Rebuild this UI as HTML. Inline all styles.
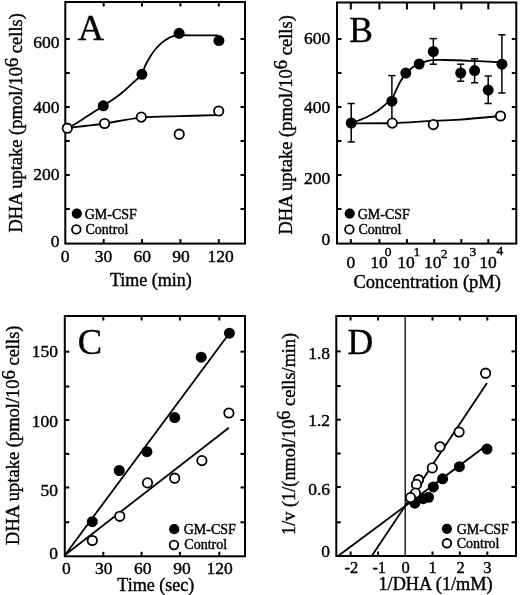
<!DOCTYPE html>
<html><head><meta charset="utf-8"><style>
html,body{margin:0;padding:0;background:#fff;}
svg{display:block;will-change:transform;filter:blur(0.3px);}
text{font-family:"Liberation Serif", serif;fill:#000;stroke:#000;stroke-width:0.4px;}
</style></head><body>
<svg width="520" height="595" viewBox="0 0 520 595">
<rect x="0" y="0" width="520" height="595" fill="#fff"/>
<rect x="65.30" y="2.00" width="179.70" height="241.60" fill="none" stroke="#000" stroke-width="2"/>
<line x1="103.67" y1="243.60" x2="103.67" y2="239.10" stroke="#000" stroke-width="2"/>
<line x1="103.67" y1="2.00" x2="103.67" y2="6.50" stroke="#000" stroke-width="2"/>
<line x1="142.04" y1="243.60" x2="142.04" y2="239.10" stroke="#000" stroke-width="2"/>
<line x1="142.04" y1="2.00" x2="142.04" y2="6.50" stroke="#000" stroke-width="2"/>
<line x1="180.41" y1="243.60" x2="180.41" y2="239.10" stroke="#000" stroke-width="2"/>
<line x1="180.41" y1="2.00" x2="180.41" y2="6.50" stroke="#000" stroke-width="2"/>
<line x1="218.78" y1="243.60" x2="218.78" y2="239.10" stroke="#000" stroke-width="2"/>
<line x1="218.78" y1="2.00" x2="218.78" y2="6.50" stroke="#000" stroke-width="2"/>
<line x1="65.30" y1="209.00" x2="69.80" y2="209.00" stroke="#000" stroke-width="2"/>
<line x1="245.00" y1="209.00" x2="240.50" y2="209.00" stroke="#000" stroke-width="2"/>
<line x1="65.30" y1="175.00" x2="69.80" y2="175.00" stroke="#000" stroke-width="2"/>
<line x1="245.00" y1="175.00" x2="240.50" y2="175.00" stroke="#000" stroke-width="2"/>
<line x1="65.30" y1="141.00" x2="69.80" y2="141.00" stroke="#000" stroke-width="2"/>
<line x1="245.00" y1="141.00" x2="240.50" y2="141.00" stroke="#000" stroke-width="2"/>
<line x1="65.30" y1="107.00" x2="69.80" y2="107.00" stroke="#000" stroke-width="2"/>
<line x1="245.00" y1="107.00" x2="240.50" y2="107.00" stroke="#000" stroke-width="2"/>
<line x1="65.30" y1="73.00" x2="69.80" y2="73.00" stroke="#000" stroke-width="2"/>
<line x1="245.00" y1="73.00" x2="240.50" y2="73.00" stroke="#000" stroke-width="2"/>
<line x1="65.30" y1="39.00" x2="69.80" y2="39.00" stroke="#000" stroke-width="2"/>
<line x1="245.00" y1="39.00" x2="240.50" y2="39.00" stroke="#000" stroke-width="2"/>
<text x="60.83" y="261.73" font-size="17.5" >0</text>
<text x="94.85" y="261.73" font-size="17.5" >30</text>
<text x="133.45" y="261.73" font-size="17.5" >60</text>
<text x="172.15" y="261.73" font-size="17.5" >90</text>
<text x="207.47" y="261.73" font-size="17.5" >120</text>
<text x="33.25" y="48.33" font-size="17.5" >600</text>
<text x="33.25" y="113.43" font-size="17.5" >400</text>
<text x="33.25" y="180.23" font-size="17.5" >200</text>
<text x="50.75" y="246.53" font-size="17.5" >0</text>
<text x="77.75" y="39.59" font-size="36.5" >A</text>
<path d="M72.00,126.00 C74.33,124.50 80.78,120.37 86.00,117.00 C91.22,113.63 97.55,109.63 103.30,105.80 C109.05,101.97 115.22,98.13 120.50,94.00 C125.78,89.87 131.43,84.28 135.00,81.00 C138.57,77.72 140.18,76.88 141.90,74.30 C143.62,71.72 143.85,68.55 145.30,65.50 C146.75,62.45 148.67,59.00 150.60,56.00 C152.53,53.00 154.43,50.15 156.90,47.50 C159.37,44.85 162.58,42.03 165.40,40.10 C168.22,38.17 171.37,36.70 173.80,35.90 C176.23,35.10 177.30,35.40 180.00,35.30 C182.70,35.20 183.67,35.28 190.00,35.30 C196.33,35.32 213.33,35.38 218.00,35.40" fill="none" stroke="#000" stroke-width="1.8" stroke-linejoin="round"/>
<path d="M67.30,128.20 C70.25,127.83 78.78,126.78 85.00,126.00 C91.22,125.22 95.22,124.90 104.60,123.50 C113.98,122.10 128.73,118.83 141.30,117.60 C153.87,116.37 167.55,116.50 180.00,116.10 C192.45,115.70 210.00,115.35 216.00,115.20" fill="none" stroke="#000" stroke-width="1.8" stroke-linejoin="round"/>
<circle cx="103.30" cy="105.80" r="5.5" fill="#000"/>
<circle cx="141.90" cy="74.30" r="5.5" fill="#000"/>
<circle cx="179.10" cy="33.30" r="5.5" fill="#000"/>
<circle cx="218.90" cy="40.60" r="5.5" fill="#000"/>
<circle cx="67.30" cy="128.20" r="4.7" fill="#fff" stroke="#000" stroke-width="1.8"/>
<circle cx="104.60" cy="123.50" r="4.7" fill="#fff" stroke="#000" stroke-width="1.8"/>
<circle cx="141.30" cy="117.10" r="4.7" fill="#fff" stroke="#000" stroke-width="1.8"/>
<circle cx="179.20" cy="134.20" r="4.7" fill="#fff" stroke="#000" stroke-width="1.8"/>
<circle cx="218.70" cy="111.00" r="4.7" fill="#fff" stroke="#000" stroke-width="1.8"/>
<circle cx="76.80" cy="213.60" r="5.1" fill="#000"/>
<text x="84.70" y="218.50" font-size="14" >GM-CSF</text>
<circle cx="76.30" cy="229.40" r="4.3" fill="#fff" stroke="#000" stroke-width="1.8"/>
<text x="85.50" y="233.50" font-size="14" >Control</text>
<text x="109.88" y="285.80" font-size="18" >Time (min)</text>
<text transform="translate(22.30,232.50) rotate(-90)" font-size="18.5">DHA uptake (pmol/10<tspan dy="-4.5">6</tspan><tspan dy="4.5"> cells)</tspan></text>
<rect x="337.00" y="2.50" width="179.30" height="241.10" fill="none" stroke="#000" stroke-width="2"/>
<line x1="350.80" y1="243.60" x2="350.80" y2="239.10" stroke="#000" stroke-width="2"/>
<line x1="350.80" y1="2.50" x2="350.80" y2="9.50" stroke="#000" stroke-width="2"/>
<line x1="379.40" y1="243.60" x2="379.40" y2="239.10" stroke="#000" stroke-width="2"/>
<line x1="379.40" y1="2.50" x2="379.40" y2="9.50" stroke="#000" stroke-width="2"/>
<line x1="406.90" y1="243.60" x2="406.90" y2="239.10" stroke="#000" stroke-width="2"/>
<line x1="406.90" y1="2.50" x2="406.90" y2="9.50" stroke="#000" stroke-width="2"/>
<line x1="434.20" y1="243.60" x2="434.20" y2="239.10" stroke="#000" stroke-width="2"/>
<line x1="434.20" y1="2.50" x2="434.20" y2="9.50" stroke="#000" stroke-width="2"/>
<line x1="461.30" y1="243.60" x2="461.30" y2="239.10" stroke="#000" stroke-width="2"/>
<line x1="461.30" y1="2.50" x2="461.30" y2="9.50" stroke="#000" stroke-width="2"/>
<line x1="488.30" y1="243.60" x2="488.30" y2="239.10" stroke="#000" stroke-width="2"/>
<line x1="488.30" y1="2.50" x2="488.30" y2="9.50" stroke="#000" stroke-width="2"/>
<line x1="337.00" y1="209.00" x2="341.50" y2="209.00" stroke="#000" stroke-width="2"/>
<line x1="516.30" y1="209.00" x2="511.80" y2="209.00" stroke="#000" stroke-width="2"/>
<line x1="337.00" y1="175.00" x2="341.50" y2="175.00" stroke="#000" stroke-width="2"/>
<line x1="516.30" y1="175.00" x2="511.80" y2="175.00" stroke="#000" stroke-width="2"/>
<line x1="337.00" y1="141.00" x2="341.50" y2="141.00" stroke="#000" stroke-width="2"/>
<line x1="516.30" y1="141.00" x2="511.80" y2="141.00" stroke="#000" stroke-width="2"/>
<line x1="337.00" y1="107.00" x2="341.50" y2="107.00" stroke="#000" stroke-width="2"/>
<line x1="516.30" y1="107.00" x2="511.80" y2="107.00" stroke="#000" stroke-width="2"/>
<line x1="337.00" y1="73.00" x2="341.50" y2="73.00" stroke="#000" stroke-width="2"/>
<line x1="516.30" y1="73.00" x2="511.80" y2="73.00" stroke="#000" stroke-width="2"/>
<line x1="337.00" y1="39.00" x2="341.50" y2="39.00" stroke="#000" stroke-width="2"/>
<line x1="516.30" y1="39.00" x2="511.80" y2="39.00" stroke="#000" stroke-width="2"/>
<text x="346.52" y="268.13" font-size="17.5" >0</text>
<text x="370.30" y="268.13" font-size="17.5" >10</text>
<text x="384.70" y="255.92" font-size="13.5" >0</text>
<text x="397.20" y="268.13" font-size="17.5" >10</text>
<text x="413.50" y="255.76" font-size="13.5" >1</text>
<text x="424.00" y="268.13" font-size="17.5" >10</text>
<text x="440.70" y="257.67" font-size="13.5" >2</text>
<text x="452.20" y="268.13" font-size="17.5" >10</text>
<text x="469.50" y="255.90" font-size="13.5" >3</text>
<text x="479.20" y="268.13" font-size="17.5" >10</text>
<text x="496.50" y="255.44" font-size="13.5" >4</text>
<text x="304.05" y="44.43" font-size="17.5" >600</text>
<text x="304.05" y="113.43" font-size="17.5" >400</text>
<text x="304.05" y="184.03" font-size="17.5" >200</text>
<text x="321.55" y="244.63" font-size="17.5" >0</text>
<text x="349.25" y="41.75" font-size="35.5" >B</text>
<line x1="351.20" y1="103.50" x2="351.20" y2="141.90" stroke="#000" stroke-width="1.5"/>
<line x1="347.60" y1="103.50" x2="354.80" y2="103.50" stroke="#000" stroke-width="1.5"/>
<line x1="347.60" y1="141.90" x2="354.80" y2="141.90" stroke="#000" stroke-width="1.5"/>
<line x1="391.90" y1="75.60" x2="391.90" y2="122.80" stroke="#000" stroke-width="1.5"/>
<line x1="388.30" y1="75.60" x2="395.50" y2="75.60" stroke="#000" stroke-width="1.5"/>
<line x1="388.30" y1="122.80" x2="395.50" y2="122.80" stroke="#000" stroke-width="1.5"/>
<line x1="433.30" y1="38.60" x2="433.30" y2="64.20" stroke="#000" stroke-width="1.5"/>
<line x1="429.70" y1="38.60" x2="436.90" y2="38.60" stroke="#000" stroke-width="1.5"/>
<line x1="429.70" y1="64.20" x2="436.90" y2="64.20" stroke="#000" stroke-width="1.5"/>
<line x1="460.70" y1="64.20" x2="460.70" y2="81.20" stroke="#000" stroke-width="1.5"/>
<line x1="457.10" y1="64.20" x2="464.30" y2="64.20" stroke="#000" stroke-width="1.5"/>
<line x1="457.10" y1="81.20" x2="464.30" y2="81.20" stroke="#000" stroke-width="1.5"/>
<line x1="474.60" y1="58.80" x2="474.60" y2="82.80" stroke="#000" stroke-width="1.5"/>
<line x1="471.00" y1="58.80" x2="478.20" y2="58.80" stroke="#000" stroke-width="1.5"/>
<line x1="471.00" y1="82.80" x2="478.20" y2="82.80" stroke="#000" stroke-width="1.5"/>
<line x1="488.20" y1="76.00" x2="488.20" y2="103.50" stroke="#000" stroke-width="1.5"/>
<line x1="484.60" y1="76.00" x2="491.80" y2="76.00" stroke="#000" stroke-width="1.5"/>
<line x1="484.60" y1="103.50" x2="491.80" y2="103.50" stroke="#000" stroke-width="1.5"/>
<line x1="501.90" y1="34.80" x2="501.90" y2="93.00" stroke="#000" stroke-width="1.5"/>
<line x1="498.30" y1="34.80" x2="505.50" y2="34.80" stroke="#000" stroke-width="1.5"/>
<line x1="498.30" y1="93.00" x2="505.50" y2="93.00" stroke="#000" stroke-width="1.5"/>
<path d="M351.20,123.10 C353.57,122.20 360.98,119.75 365.40,117.70 C369.82,115.65 374.12,113.23 377.70,110.80 C381.28,108.37 384.55,105.03 386.90,103.10 C389.25,101.17 390.25,101.38 391.80,99.20 C393.35,97.02 394.70,93.07 396.20,90.00 C397.70,86.93 399.13,83.62 400.80,80.80 C402.47,77.98 404.15,75.42 406.20,73.10 C408.25,70.78 410.93,68.45 413.10,66.90 C415.27,65.35 416.38,64.90 419.20,63.80 C422.02,62.70 425.70,60.93 430.00,60.30 C434.30,59.67 438.33,59.92 445.00,60.00 C451.67,60.08 460.52,60.40 470.00,60.80 C479.48,61.20 496.58,62.13 501.90,62.40" fill="none" stroke="#000" stroke-width="1.8" stroke-linejoin="round"/>
<path d="M351.20,123.50 C358.10,123.42 379.85,123.38 392.60,123.00 C405.35,122.62 416.47,121.77 427.70,121.20 C438.93,120.63 447.87,120.47 460.00,119.60 C472.13,118.73 493.75,116.60 500.50,116.00" fill="none" stroke="#000" stroke-width="1.8" stroke-linejoin="round"/>
<circle cx="351.20" cy="123.10" r="5.5" fill="#000"/>
<circle cx="391.90" cy="101.20" r="5.5" fill="#000"/>
<circle cx="405.80" cy="73.10" r="5.5" fill="#000"/>
<circle cx="419.20" cy="64.00" r="5.5" fill="#000"/>
<circle cx="433.30" cy="51.50" r="5.5" fill="#000"/>
<circle cx="460.70" cy="73.00" r="5.5" fill="#000"/>
<circle cx="474.60" cy="70.60" r="5.5" fill="#000"/>
<circle cx="488.20" cy="90.10" r="5.5" fill="#000"/>
<circle cx="501.90" cy="64.20" r="5.5" fill="#000"/>
<circle cx="392.30" cy="123.10" r="4.7" fill="#fff" stroke="#000" stroke-width="1.8"/>
<circle cx="433.30" cy="124.60" r="4.7" fill="#fff" stroke="#000" stroke-width="1.8"/>
<circle cx="500.50" cy="116.00" r="4.7" fill="#fff" stroke="#000" stroke-width="1.8"/>
<circle cx="349.70" cy="213.60" r="5.1" fill="#000"/>
<text x="357.70" y="218.50" font-size="14" >GM-CSF</text>
<circle cx="349.40" cy="229.40" r="4.3" fill="#fff" stroke="#000" stroke-width="1.8"/>
<text x="358.50" y="233.50" font-size="14" >Control</text>
<text x="353.53" y="287.90" font-size="18.5" >Concentration (pM)</text>
<text transform="translate(291.50,234.60) rotate(-90)" font-size="18.5">DHA uptake (pmol/10<tspan dy="-4.5">6</tspan><tspan dy="4.5"> cells)</tspan></text>
<rect x="64.80" y="316.00" width="180.20" height="240.30" fill="none" stroke="#000" stroke-width="2"/>
<line x1="103.30" y1="556.30" x2="103.30" y2="551.80" stroke="#000" stroke-width="2"/>
<line x1="103.30" y1="316.00" x2="103.30" y2="320.50" stroke="#000" stroke-width="2"/>
<line x1="141.60" y1="556.30" x2="141.60" y2="551.80" stroke="#000" stroke-width="2"/>
<line x1="141.60" y1="316.00" x2="141.60" y2="320.50" stroke="#000" stroke-width="2"/>
<line x1="179.90" y1="556.30" x2="179.90" y2="551.80" stroke="#000" stroke-width="2"/>
<line x1="179.90" y1="316.00" x2="179.90" y2="320.50" stroke="#000" stroke-width="2"/>
<line x1="219.30" y1="556.30" x2="219.30" y2="551.80" stroke="#000" stroke-width="2"/>
<line x1="219.30" y1="316.00" x2="219.30" y2="320.50" stroke="#000" stroke-width="2"/>
<line x1="64.80" y1="522.30" x2="69.30" y2="522.30" stroke="#000" stroke-width="2"/>
<line x1="245.00" y1="522.30" x2="240.50" y2="522.30" stroke="#000" stroke-width="2"/>
<line x1="64.80" y1="487.50" x2="69.30" y2="487.50" stroke="#000" stroke-width="2"/>
<line x1="245.00" y1="487.50" x2="240.50" y2="487.50" stroke="#000" stroke-width="2"/>
<line x1="64.80" y1="453.90" x2="69.30" y2="453.90" stroke="#000" stroke-width="2"/>
<line x1="245.00" y1="453.90" x2="240.50" y2="453.90" stroke="#000" stroke-width="2"/>
<line x1="64.80" y1="420.00" x2="69.30" y2="420.00" stroke="#000" stroke-width="2"/>
<line x1="245.00" y1="420.00" x2="240.50" y2="420.00" stroke="#000" stroke-width="2"/>
<line x1="64.80" y1="386.50" x2="69.30" y2="386.50" stroke="#000" stroke-width="2"/>
<line x1="245.00" y1="386.50" x2="240.50" y2="386.50" stroke="#000" stroke-width="2"/>
<line x1="64.80" y1="351.70" x2="69.30" y2="351.70" stroke="#000" stroke-width="2"/>
<line x1="245.00" y1="351.70" x2="240.50" y2="351.70" stroke="#000" stroke-width="2"/>
<text x="61.88" y="573.93" font-size="17.5" >0</text>
<text x="95.00" y="573.93" font-size="17.5" >30</text>
<text x="133.95" y="573.93" font-size="17.5" >60</text>
<text x="173.25" y="573.93" font-size="17.5" >90</text>
<text x="206.57" y="573.93" font-size="17.5" >120</text>
<text x="31.75" y="357.13" font-size="17.5" >150</text>
<text x="31.75" y="426.53" font-size="17.5" >100</text>
<text x="40.50" y="495.73" font-size="17.5" >50</text>
<text x="49.25" y="559.13" font-size="17.5" >0</text>
<text x="77.75" y="354.06" font-size="36.5" >C</text>
<path d="M65,555 L229.4,333.2" fill="none" stroke="#000" stroke-width="1.8" stroke-linejoin="round"/>
<path d="M65,555 L228.9,427.7" fill="none" stroke="#000" stroke-width="1.8" stroke-linejoin="round"/>
<circle cx="92.30" cy="521.70" r="5.5" fill="#000"/>
<circle cx="119.20" cy="470.50" r="5.5" fill="#000"/>
<circle cx="146.90" cy="451.70" r="5.5" fill="#000"/>
<circle cx="174.70" cy="417.60" r="5.5" fill="#000"/>
<circle cx="201.20" cy="357.20" r="5.5" fill="#000"/>
<circle cx="229.40" cy="333.20" r="5.5" fill="#000"/>
<circle cx="92.30" cy="540.50" r="4.7" fill="#fff" stroke="#000" stroke-width="1.8"/>
<circle cx="119.80" cy="516.30" r="4.7" fill="#fff" stroke="#000" stroke-width="1.8"/>
<circle cx="147.50" cy="482.90" r="4.7" fill="#fff" stroke="#000" stroke-width="1.8"/>
<circle cx="174.70" cy="478.20" r="4.7" fill="#fff" stroke="#000" stroke-width="1.8"/>
<circle cx="201.90" cy="460.60" r="4.7" fill="#fff" stroke="#000" stroke-width="1.8"/>
<circle cx="228.90" cy="413.00" r="4.7" fill="#fff" stroke="#000" stroke-width="1.8"/>
<circle cx="174.20" cy="529.20" r="5.1" fill="#000"/>
<text x="183.70" y="533.80" font-size="14" >GM-CSF</text>
<circle cx="174.00" cy="545.00" r="4.3" fill="#fff" stroke="#000" stroke-width="1.8"/>
<text x="184.30" y="548.50" font-size="14" >Control</text>
<text x="117.34" y="590.50" font-size="18" >Time (sec)</text>
<text transform="translate(19.30,544.90) rotate(-90)" font-size="18.5">DHA uptake (pmol/10<tspan dy="-4.5">6</tspan><tspan dy="4.5"> cells)</tspan></text>
<rect x="336.30" y="316.00" width="179.70" height="240.00" fill="none" stroke="#000" stroke-width="2"/>
<line x1="405.20" y1="316.00" x2="405.20" y2="556.00" stroke="#000" stroke-width="1.3"/>
<line x1="350.60" y1="556.00" x2="350.60" y2="551.50" stroke="#000" stroke-width="2"/>
<line x1="350.60" y1="316.00" x2="350.60" y2="320.50" stroke="#000" stroke-width="2"/>
<line x1="378.10" y1="556.00" x2="378.10" y2="551.50" stroke="#000" stroke-width="2"/>
<line x1="378.10" y1="316.00" x2="378.10" y2="320.50" stroke="#000" stroke-width="2"/>
<line x1="432.50" y1="556.00" x2="432.50" y2="551.50" stroke="#000" stroke-width="2"/>
<line x1="432.50" y1="316.00" x2="432.50" y2="320.50" stroke="#000" stroke-width="2"/>
<line x1="459.80" y1="556.00" x2="459.80" y2="551.50" stroke="#000" stroke-width="2"/>
<line x1="459.80" y1="316.00" x2="459.80" y2="320.50" stroke="#000" stroke-width="2"/>
<line x1="487.30" y1="556.00" x2="487.30" y2="551.50" stroke="#000" stroke-width="2"/>
<line x1="487.30" y1="316.00" x2="487.30" y2="320.50" stroke="#000" stroke-width="2"/>
<line x1="336.30" y1="522.30" x2="340.80" y2="522.30" stroke="#000" stroke-width="2"/>
<line x1="516.00" y1="522.30" x2="511.50" y2="522.30" stroke="#000" stroke-width="2"/>
<line x1="336.30" y1="487.00" x2="340.80" y2="487.00" stroke="#000" stroke-width="2"/>
<line x1="516.00" y1="487.00" x2="511.50" y2="487.00" stroke="#000" stroke-width="2"/>
<line x1="336.30" y1="453.50" x2="340.80" y2="453.50" stroke="#000" stroke-width="2"/>
<line x1="516.00" y1="453.50" x2="511.50" y2="453.50" stroke="#000" stroke-width="2"/>
<line x1="336.30" y1="419.70" x2="340.80" y2="419.70" stroke="#000" stroke-width="2"/>
<line x1="516.00" y1="419.70" x2="511.50" y2="419.70" stroke="#000" stroke-width="2"/>
<line x1="336.30" y1="386.00" x2="340.80" y2="386.00" stroke="#000" stroke-width="2"/>
<line x1="516.00" y1="386.00" x2="511.50" y2="386.00" stroke="#000" stroke-width="2"/>
<line x1="336.30" y1="351.40" x2="340.80" y2="351.40" stroke="#000" stroke-width="2"/>
<line x1="516.00" y1="351.40" x2="511.50" y2="351.40" stroke="#000" stroke-width="2"/>
<text x="344.58" y="573.06" font-size="16.5" >-2</text>
<text x="372.38" y="573.05" font-size="16.5" >-1</text>
<text x="401.52" y="573.00" font-size="16.5" >0</text>
<text x="428.57" y="573.05" font-size="16.5" >1</text>
<text x="456.48" y="573.06" font-size="16.5" >2</text>
<text x="483.27" y="572.98" font-size="16.5" >3</text>
<text x="308.23" y="359.10" font-size="17.5" >1.8</text>
<text x="308.23" y="425.77" font-size="17.5" >1.2</text>
<text x="308.23" y="494.80" font-size="17.5" >0.6</text>
<text x="321.35" y="557.03" font-size="17.5" >0</text>
<text x="347.40" y="353.50" font-size="35.5" >D</text>
<path d="M338.4,555.8 L405,506.2 L487,445" fill="none" stroke="#000" stroke-width="1.8" stroke-linejoin="round"/>
<path d="M371.9,555.8 L405,506.2 L487,383" fill="none" stroke="#000" stroke-width="1.8" stroke-linejoin="round"/>
<circle cx="459.40" cy="466.70" r="5.5" fill="#000"/>
<circle cx="442.60" cy="478.80" r="5.5" fill="#000"/>
<circle cx="433.30" cy="486.90" r="5.5" fill="#000"/>
<circle cx="428.60" cy="497.30" r="5.5" fill="#000"/>
<circle cx="423.20" cy="498.70" r="5.5" fill="#000"/>
<circle cx="414.80" cy="503.20" r="5.5" fill="#000"/>
<circle cx="487.00" cy="449.10" r="5.5" fill="#000"/>
<circle cx="485.60" cy="373.20" r="4.7" fill="#fff" stroke="#000" stroke-width="1.8"/>
<circle cx="459.10" cy="432.00" r="4.7" fill="#fff" stroke="#000" stroke-width="1.8"/>
<circle cx="440.00" cy="446.80" r="4.7" fill="#fff" stroke="#000" stroke-width="1.8"/>
<circle cx="432.30" cy="467.90" r="4.7" fill="#fff" stroke="#000" stroke-width="1.8"/>
<circle cx="418.50" cy="479.70" r="4.7" fill="#fff" stroke="#000" stroke-width="1.8"/>
<circle cx="416.50" cy="484.40" r="4.7" fill="#fff" stroke="#000" stroke-width="1.8"/>
<circle cx="415.50" cy="493.10" r="4.7" fill="#fff" stroke="#000" stroke-width="1.8"/>
<circle cx="410.50" cy="497.60" r="4.7" fill="#fff" stroke="#000" stroke-width="1.8"/>
<circle cx="446.90" cy="528.80" r="5.1" fill="#000"/>
<text x="456.70" y="533.70" font-size="14" >GM-CSF</text>
<circle cx="446.90" cy="543.30" r="4.3" fill="#fff" stroke="#000" stroke-width="1.8"/>
<text x="456.70" y="548.30" font-size="14" >Control</text>
<text x="378.41" y="590.30" font-size="18.3" >1/DHA (1/mM)</text>
<text transform="translate(294.50,534.94) rotate(-90)" font-size="18.3">1/v (1/(nmol/10<tspan dy="-4.5">6</tspan><tspan dy="4.5"> cells/min)</tspan></text>
</svg></body></html>
